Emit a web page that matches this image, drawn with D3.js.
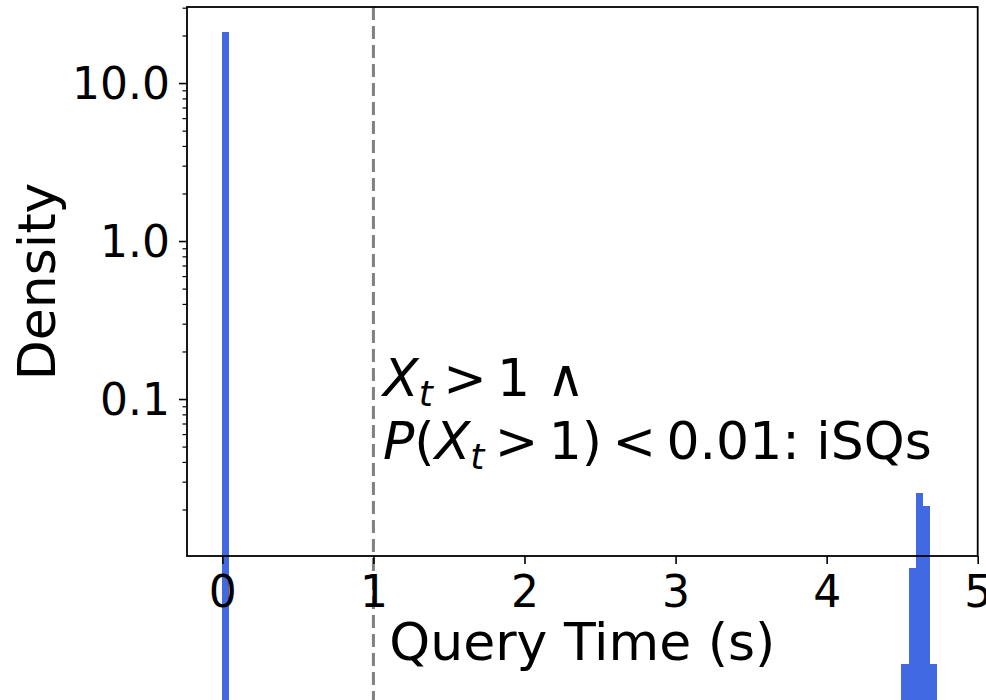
<!DOCTYPE html>
<html>
<head>
<meta charset="utf-8">
<script src="https://cdn.jsdelivr.net/npm/d3@7"></script>
<style>
  body { margin: 0; background: #fff; }
  text { font-family: "DejaVu Sans", sans-serif; }
</style>
</head>
<body>
<div id="chart"></div>
<script>
// histogram bins (left edge) and density per bin
const binStart = [-0.005, 4.495, 4.542, 4.589, 4.636, 4.683];
const binWidth = 0.0473;
const density = [21.08, 0.00211, 0.00846, 0.0254, 0.0211, 0.00211];

const xTicks = [0, 1, 2, 3, 4, 5];
const yTicks = [0.1, 1, 10];
const yTickLabels = ["0.1", "1.0", "10.0"];
const threshold = 1;

const width = 986;
const height = 700;
const plot = { left: 187, right: 977.7, top: 7, bottom: 556 };

const svg = d3
  .select("#chart")
  .append("svg")
  .attr("width", width)
  .attr("height", height)
  .style("display", "block");

const x = d3.scaleLinear().domain([-0.234, 5]).range([plot.left, plot.right]);
const y = d3.scaleLog().domain([0.01015, 30.3]).range([plot.bottom, plot.top]);

// bars (not clipped, they run past the bottom of the axes like the original)
svg
  .append("g")
  .attr("shape-rendering", "crispEdges")
  .selectAll("rect")
  .data(density)
  .join("rect")
  .attr("x", (d, i) => x(binStart[i]))
  .attr("width", (d, i) => x(binStart[i] + binWidth) - x(binStart[i]) + 0.5)
  .attr("y", (d) => y(d))
  .attr("height", (d) => height + 10 - y(d))
  .attr("fill", "#4169e1");

// dashed threshold line
svg
  .append("line")
  .attr("x1", x(threshold))
  .attr("x2", x(threshold))
  .attr("y1", plot.top)
  .attr("y2", height + 10)
  .attr("stroke", "#808080")
  .attr("stroke-width", 3)
  .attr("stroke-dasharray", "13,6");

// x axis
const xAxis = svg
  .append("g")
  .attr("transform", `translate(0,${plot.bottom})`)
  .call(d3.axisBottom(x).tickValues(xTicks).tickSize(8).tickFormat(d3.format("d")));
xAxis.select(".domain").remove();
xAxis.selectAll("line").attr("stroke", "#000").attr("stroke-width", 1.6);
xAxis
  .selectAll("text")
  .attr("y", 51)
  .attr("dy", 0)
  .attr("fill", "#000")
  .style("font-size", "44px");

// y axis, major
const yAxis = svg
  .append("g")
  .attr("transform", `translate(${plot.left},0)`)
  .call(
    d3
      .axisLeft(y)
      .tickValues(yTicks)
      .tickSize(8)
      .tickPadding(9)
      .tickFormat((d, i) => yTickLabels[i])
  );
yAxis.select(".domain").remove();
yAxis.selectAll("line").attr("stroke", "#000").attr("stroke-width", 1.6);
yAxis
  .selectAll("text")
  .attr("dy", "0.36em")
  .attr("fill", "#000")
  .style("font-size", "44px");

// y axis, minor log ticks
const minor = [];
[0.01, 0.1, 1, 10].forEach((dec) => {
  for (let k = 2; k <= 9; k++) {
    const v = k * dec;
    if (v >= y.domain()[0] && v <= y.domain()[1]) minor.push(v);
  }
});
const yMinor = svg
  .append("g")
  .attr("transform", `translate(${plot.left},0)`)
  .call(d3.axisLeft(y).tickValues(minor).tickSize(4.5).tickFormat(""));
yMinor.select(".domain").remove();
yMinor.selectAll("line").attr("stroke", "#000").attr("stroke-width", 1.2);

// frame
svg
  .append("rect")
  .attr("x", plot.left)
  .attr("y", plot.top)
  .attr("width", plot.right - plot.left)
  .attr("height", plot.bottom - plot.top)
  .attr("fill", "none")
  .attr("stroke", "#000")
  .attr("stroke-width", 1.8);

// axis labels
svg
  .append("text")
  .attr("x", (plot.left + plot.right) / 2)
  .attr("y", 660)
  .attr("text-anchor", "middle")
  .style("font-size", "52px")
  .text("Query Time (s)");

svg
  .append("text")
  .attr("transform", `translate(55,${(plot.top + plot.bottom) / 2}) rotate(-90)`)
  .attr("text-anchor", "middle")
  .style("font-size", "52px")
  .text("Density");

// annotation
const note = svg.append("text").style("font-size", "52px").attr("fill", "#000");

const line1 = note.append("tspan").attr("x", 383).attr("y", 396);
line1.append("tspan").style("font-style", "italic").text("X");
line1
  .append("tspan")
  .style("font-style", "italic")
  .style("font-size", "36px")
  .attr("dy", 10)
  .text("t");
line1.append("tspan").attr("dy", -10).text("\u2009>\u20091 \u2227");

const line2 = note.append("tspan").attr("x", 383).attr("y", 459);
line2.append("tspan").style("font-style", "italic").text("P");
line2.append("tspan").text("(");
line2.append("tspan").style("font-style", "italic").text("X");
line2
  .append("tspan")
  .style("font-style", "italic")
  .style("font-size", "36px")
  .attr("dy", 10)
  .text("t");
line2.append("tspan").attr("dy", -10).text("\u2009>\u20091)\u2009<\u20090.01: iSQs");
</script>
</body>
</html>
